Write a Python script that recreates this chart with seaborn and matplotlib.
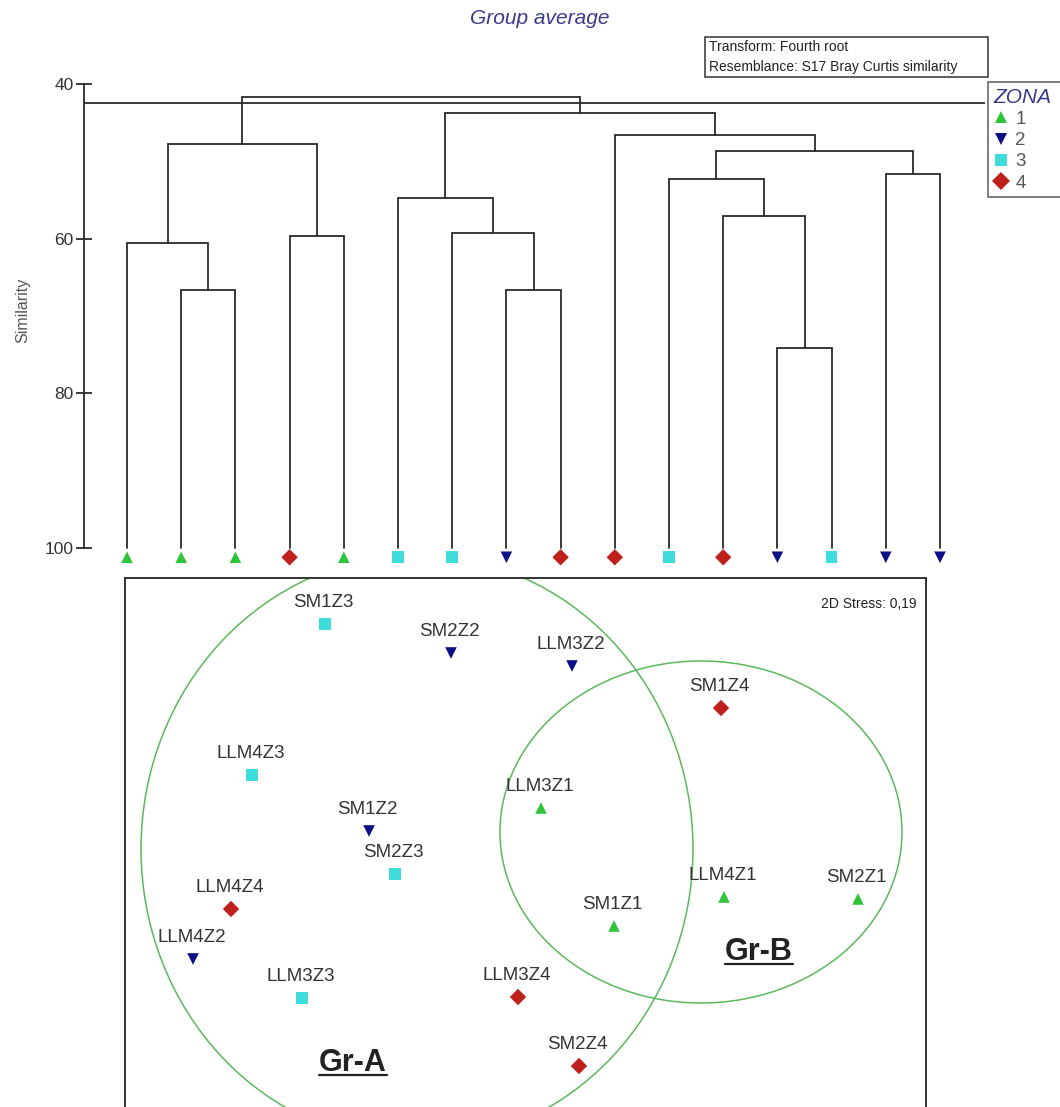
import numpy as np
import pandas as pd
import matplotlib
matplotlib.use("Agg")
import matplotlib.pyplot as plt
from matplotlib.patches import Ellipse, Rectangle
from matplotlib.lines import Line2D
import seaborn as sns

# ---------------- data ----------------
# Dendrogram (group average, Bray-Curtis similarity)
leaf_zones = [1, 1, 1, 4, 1, 3, 3, 2, 4, 4, 3, 4, 2, 3, 2, 2]
merge_left = [1, 0, 3, 17, 7, 6, 5, 12, 11, 10, 14, 25, 9, 22, 19]
merge_right = [2, 16, 4, 18, 8, 20, 21, 13, 23, 24, 15, 26, 27, 28, 29]
merge_sim = [66.6, 60.6, 59.6, 47.7, 66.7, 59.3, 54.7, 74.2, 57.1, 52.3, 51.6, 48.7, 46.6, 43.8, 41.7]
slice_sim = 42.4
sim_ticks = [40, 60, 80, 100]

# nMDS ordination
sample_names = ["SM1Z3", "SM2Z2", "LLM3Z2", "SM1Z4", "LLM4Z3", "LLM3Z1", "SM1Z2", "SM2Z3",
                "LLM4Z4", "LLM4Z1", "SM2Z1", "SM1Z1", "LLM4Z2", "LLM3Z3", "LLM3Z4", "SM2Z4"]
sample_zone = [3, 2, 2, 4, 3, 1, 2, 3, 4, 1, 1, 1, 2, 3, 4, 4]
mds_x = [-1.00, -0.37, 0.235, 0.98, -1.365, 0.08, -0.78, -0.65,
         -1.47, 0.995, 1.665, 0.445, -1.66, -1.115, -0.035, 0.27]
mds_y = [1.09, 0.945, 0.88, 0.67, 0.335, 0.17, 0.055, -0.16,
         -0.335, -0.275, -0.285, -0.42, -0.585, -0.78, -0.775, -1.12]
stress_text = "2D Stress: 0,19"

group_names = ["Gr-A", "Gr-B"]
group_cx = [-0.54, 0.88]
group_cy = [-0.035, 0.05]
group_w = [2.76, 2.01]
group_h = [2.94, 1.71]
group_angle = [0, 0]
group_label_x = [-0.86, 1.17]
group_label_y = [-1.105, -0.55]

zone_levels = ["1", "2", "3", "4"]
zone_colors = {"1": "#2fc43a", "2": "#0e0e88", "3": "#3fdcdc", "4": "#c0201c"}
zone_markers = {"1": "^", "2": "v", "3": "s", "4": "D"}

# ---------------- figure ----------------
sns.set_theme(style="white")
plt.rcParams["font.family"] = ["Liberation Sans", "DejaVu Sans"]

W, H = 1060, 1107
fig = plt.figure(figsize=(W / 100, H / 100), dpi=100)

def fx(px):
    return px / W

def fy(py):
    return 1 - py / H

# ---- dendrogram axes ----
px_per_unit = (548 - 84) / 60.0
leaf_step = 54.2
d_left, d_right, d_top, d_bot = 84, 985, 84, 568
axd = fig.add_axes([fx(d_left), fy(d_bot), fx(d_right - d_left), (d_bot - d_top) / H])
axd.set_xlim((d_left - 127) / leaf_step, (d_right - 127) / leaf_step)
axd.set_ylim(40 + (d_bot - d_top) / px_per_unit, 40)

line_col = "#2b2b2b"
n = len(leaf_zones)
pos = {i: float(i) for i in range(n)}
hgt = {i: 100.0 for i in range(n)}
for k, (a, b, s) in enumerate(zip(merge_left, merge_right, merge_sim)):
    node = n + k
    axd.plot([pos[a], pos[a], pos[b], pos[b]], [hgt[a], s, s, hgt[b]],
             color=line_col, lw=1.3, solid_joinstyle="miter")
    pos[node] = (pos[a] + pos[b]) / 2
    hgt[node] = s
axd.axhline(slice_sim, color=line_col, lw=1.3)

leaf_df = pd.DataFrame({"x": np.arange(n),
                        "y": 101.2,
                        "zone": [str(z) for z in leaf_zones]})
sns.scatterplot(data=leaf_df, x="x", y="y", hue="zone", style="zone",
                hue_order=zone_levels, style_order=zone_levels,
                palette=zone_colors, markers=zone_markers, s=70,
                linewidth=0, legend=False, ax=axd, clip_on=False)

for sp in ["top", "right", "bottom"]:
    axd.spines[sp].set_visible(False)
axd.spines["left"].set_color(line_col)
axd.spines["left"].set_linewidth(1.3)
axd.spines["left"].set_bounds(40, 100)
axd.set_xticks([])
axd.set_yticks(sim_ticks)
axd.tick_params(axis="y", direction="inout", length=11, width=1.3,
                color=line_col, labelsize=12.5, labelcolor="#333333", pad=2, left=True)
axd.set_xlabel("")
axd.set_ylabel("Similarity", fontsize=11.5, color="#555555")
axd.yaxis.set_label_coords(-0.06, (d_bot - 310) / (d_bot - d_top))

# title
fig.text(fx(540), fy(18), "Group average", ha="center", va="center",
         fontsize=15, style="italic", color="#3a3a8c")

# transform / resemblance box
fig.patches.append(Rectangle((fx(705), fy(77)), fx(988 - 705), (77 - 37) / H,
                             transform=fig.transFigure, fill=False,
                             edgecolor="#333333", lw=1.1))
fig.text(fx(709), fy(47), "Transform: Fourth root", ha="left", va="center",
         fontsize=10, color="#222222")
fig.text(fx(709), fy(67), "Resemblance: S17 Bray Curtis similarity", ha="left",
         va="center", fontsize=10, color="#222222")

# legend
handles = [Line2D([], [], linestyle="none", marker=zone_markers[z],
                  markerfacecolor=zone_colors[z], markeredgewidth=0,
                  markersize=9) for z in zone_levels]
leg = fig.legend(handles, zone_levels, loc="upper left",
                 bbox_to_anchor=(fx(988), fy(82), fx(110), 0),
                 bbox_transform=fig.transFigure, mode="expand",
                 title="ZONA", fontsize=13.5, frameon=True, fancybox=False,
                 handlelength=0.8, handletextpad=0.35, borderpad=0.3,
                 labelspacing=0.22, borderaxespad=0, alignment="left")
leg.get_title().set_fontsize(15)
leg.get_title().set_style("italic")
leg.get_title().set_color("#3a3a8c")
for t in leg.get_texts():
    t.set_color("#555555")
leg.get_frame().set_edgecolor("#333333")
leg.get_frame().set_linewidth(1.1)

# ---- MDS axes ----
m_left, m_right, m_top = 125, 926, 578
axm = fig.add_axes([fx(m_left), 0, fx(m_right - m_left), (H - m_top) / H])
scale = 200.0
axm.set_xlim((m_left - 525) / scale, (m_right - 525) / scale)
axm.set_ylim((842 - H) / scale, (842 - m_top) / scale)

for cx, cy, w, h, ang in zip(group_cx, group_cy, group_w, group_h, group_angle):
    axm.add_patch(Ellipse((cx, cy), w, h, angle=ang, fill=False,
                          edgecolor="#5cb85c", lw=1.1))

mds_df = pd.DataFrame({"x": mds_x, "y": mds_y,
                       "zone": [str(z) for z in sample_zone],
                       "name": sample_names})
sns.scatterplot(data=mds_df, x="x", y="y", hue="zone", style="zone",
                hue_order=zone_levels, style_order=zone_levels,
                palette=zone_colors, markers=zone_markers, s=70,
                linewidth=0, legend=False, ax=axm, zorder=3)
for _, r in mds_df.iterrows():
    axm.annotate(r["name"], (r["x"], r["y"]), xytext=(-1, 15.5),
                 textcoords="offset points", ha="center", va="center",
                 fontsize=13.5, color="#333333")

axm.text(0.988, 0.95, stress_text, transform=axm.transAxes, ha="right",
         va="center", fontsize=10, color="#222222")

group_texts = []
for name, gx, gy in zip(group_names, group_label_x, group_label_y):
    t = axm.text(gx, gy, name, ha="center", va="center", fontsize=22,
                 fontweight="bold", color="#222222")
    group_texts.append(t)

axm.set_xticks([])
axm.set_yticks([])
axm.set_xlabel("")
axm.set_ylabel("")
for sp in ["top", "left", "right"]:
    axm.spines[sp].set_visible(True)
    axm.spines[sp].set_color("#333333")
    axm.spines[sp].set_linewidth(1.4)
axm.spines["bottom"].set_visible(False)

# underline group labels
fig.canvas.draw()
renderer = fig.canvas.get_renderer()
inv = fig.transFigure.inverted()
for t in group_texts:
    bb = t.get_window_extent(renderer)
    (x0, y0) = inv.transform((bb.x0, bb.y0 + 3))
    (x1, _) = inv.transform((bb.x1, bb.y0 + 3))
    fig.add_artist(Line2D([x0, x1], [y0, y0], transform=fig.transFigure,
                          color="#222222", lw=1.6))

fig.savefig("out.png", dpi=100)
